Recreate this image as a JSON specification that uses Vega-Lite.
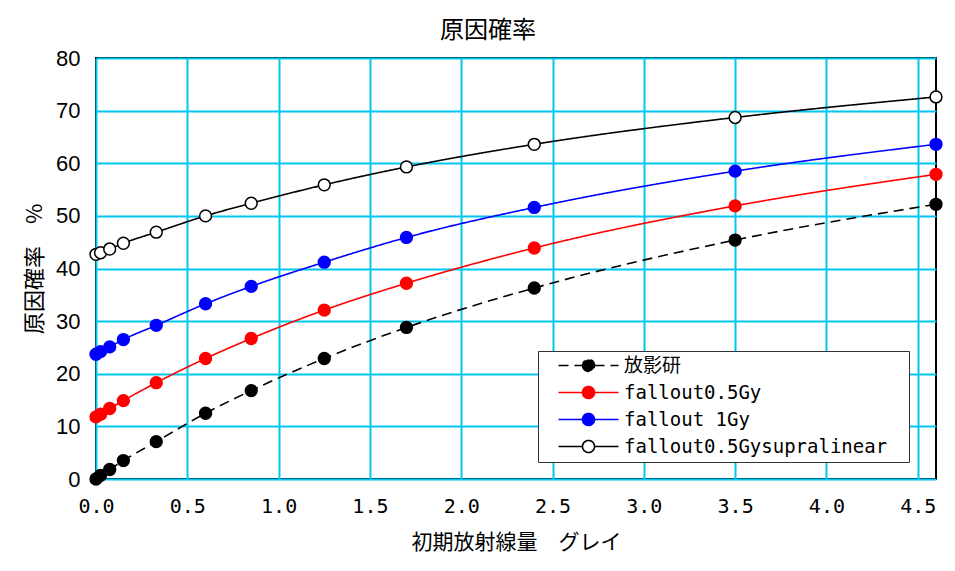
{
  "$schema": "https://vega.github.io/schema/vega-lite/v6.json",
  "width": 840,
  "height": 421,
  "autosize": "none",
  "padding": {"left": 96, "top": 58, "right": 19, "bottom": 92},
  "background": "white",
  "title": {
    "text": "原因確率",
    "font": "Noto Sans CJK JP",
    "fontSize": 24,
    "fontWeight": "normal",
    "color": "black",
    "anchor": "middle",
    "dx": -28,
    "offset": 4
  },
  "data": {
    "values": [
      {"series": "放影研", "x": 0, "y": 0},
      {"series": "放影研", "x": 0.025, "y": 0.7},
      {"series": "放影研", "x": 0.075, "y": 1.8},
      {"series": "放影研", "x": 0.15, "y": 3.5},
      {"series": "放影研", "x": 0.33, "y": 7.1},
      {"series": "放影研", "x": 0.6, "y": 12.5},
      {"series": "放影研", "x": 0.85, "y": 16.8},
      {"series": "放影研", "x": 1.25, "y": 22.9},
      {"series": "放影研", "x": 1.7, "y": 28.8},
      {"series": "放影研", "x": 2.4, "y": 36.3},
      {"series": "放影研", "x": 3.5, "y": 45.4},
      {"series": "放影研", "x": 4.6, "y": 52.2},
      {"series": "fallout0.5Gy", "x": 0, "y": 11.8},
      {"series": "fallout0.5Gy", "x": 0.025, "y": 12.3},
      {"series": "fallout0.5Gy", "x": 0.075, "y": 13.4},
      {"series": "fallout0.5Gy", "x": 0.15, "y": 14.9},
      {"series": "fallout0.5Gy", "x": 0.33, "y": 18.3},
      {"series": "fallout0.5Gy", "x": 0.6, "y": 22.9},
      {"series": "fallout0.5Gy", "x": 0.85, "y": 26.7},
      {"series": "fallout0.5Gy", "x": 1.25, "y": 32.1},
      {"series": "fallout0.5Gy", "x": 1.7, "y": 37.2},
      {"series": "fallout0.5Gy", "x": 2.4, "y": 43.9},
      {"series": "fallout0.5Gy", "x": 3.5, "y": 51.9},
      {"series": "fallout0.5Gy", "x": 4.6, "y": 57.9},
      {"series": "fallout 1Gy", "x": 0, "y": 23.7},
      {"series": "fallout 1Gy", "x": 0.025, "y": 24.2},
      {"series": "fallout 1Gy", "x": 0.075, "y": 25.1},
      {"series": "fallout 1Gy", "x": 0.15, "y": 26.5},
      {"series": "fallout 1Gy", "x": 0.33, "y": 29.2},
      {"series": "fallout 1Gy", "x": 0.6, "y": 33.3},
      {"series": "fallout 1Gy", "x": 0.85, "y": 36.6},
      {"series": "fallout 1Gy", "x": 1.25, "y": 41.2},
      {"series": "fallout 1Gy", "x": 1.7, "y": 45.9},
      {"series": "fallout 1Gy", "x": 2.4, "y": 51.6},
      {"series": "fallout 1Gy", "x": 3.5, "y": 58.5},
      {"series": "fallout 1Gy", "x": 4.6, "y": 63.6},
      {"series": "fallout0.5Gysupralinear", "x": 0, "y": 42.7},
      {"series": "fallout0.5Gysupralinear", "x": 0.025, "y": 43.0},
      {"series": "fallout0.5Gysupralinear", "x": 0.075, "y": 43.7},
      {"series": "fallout0.5Gysupralinear", "x": 0.15, "y": 44.8},
      {"series": "fallout0.5Gysupralinear", "x": 0.33, "y": 46.9},
      {"series": "fallout0.5Gysupralinear", "x": 0.6, "y": 50.0},
      {"series": "fallout0.5Gysupralinear", "x": 0.85, "y": 52.4},
      {"series": "fallout0.5Gysupralinear", "x": 1.25, "y": 55.9},
      {"series": "fallout0.5Gysupralinear", "x": 1.7, "y": 59.3},
      {"series": "fallout0.5Gysupralinear", "x": 2.4, "y": 63.6},
      {"series": "fallout0.5Gysupralinear", "x": 3.5, "y": 68.7},
      {"series": "fallout0.5Gysupralinear", "x": 4.6, "y": 72.6}
    ]
  },
  "encoding": {
    "x": {
      "field": "x",
      "type": "quantitative",
      "scale": {"domain": [0, 4.6], "nice": false, "zero": false},
      "axis": {
        "title": "初期放射線量　グレイ",
        "values": [0, 0.5, 1, 1.5, 2, 2.5, 3, 3.5, 4, 4.5],
        "format": ".1f",
        "labelFont": "DejaVu Sans Mono",
        "labelFontSize": 20,
        "labelPadding": 17,
        "titlePadding": 15,
        "labelFlush": false,
        "labelOverlap": false
      }
    },
    "y": {
      "field": "y",
      "type": "quantitative",
      "scale": {"domain": [0, 80], "nice": false},
      "axis": {
        "title": "原因確率　%",
        "titleFontSize": 22,
        "values": [0, 10, 20, 30, 40, 50, 60, 70, 80],
        "labelFont": "Liberation Sans",
        "labelFontSize": 22,
        "labelPadding": 16,
        "titlePadding": 9,
        "labelFlush": false,
        "labelOverlap": false
      }
    }
  },
  "layer": [
    {
      "mark": {"type": "line", "interpolate": "monotone", "strokeWidth": 1.6},
      "encoding": {
        "stroke": {
          "field": "series",
          "type": "nominal",
          "scale": {
            "domain": ["放影研", "fallout0.5Gy", "fallout 1Gy", "fallout0.5Gysupralinear"],
            "range": ["black", "#FF0000", "#0000FF", "black"]
          },
          "legend": {
            "title": null,
            "orient": "none",
            "legendX": 442,
            "legendY": 293,
            "symbolType": "M1,0L5,0M7,0L11,0M5,0A1,1 0 1,0 7,0A1,1 0 1,0 5,0ZM58,0",
            "symbolSize": 144,
            "symbolStrokeWidth": 1.6,
            "symbolOpacity": 1,
            "labelFont": "DejaVu Sans Mono, Noto Sans CJK JP",
            "labelFontSize": 19,
            "labelColor": "black",
            "labelOffset": 62,
            "labelLimit": 400,
            "rowPadding": 7,
            "padding": 5,
            "strokeColor": "#333333",
            "fillColor": "white",
            "cornerRadius": 0,
            "encode": {
              "symbols": {
                "update": {
                  "fill": [
                    {"test": "datum.value === 'fallout0.5Gy'", "value": "#FF0000"},
                    {"test": "datum.value === 'fallout 1Gy'", "value": "#0000FF"},
                    {"test": "datum.value === 'fallout0.5Gysupralinear'", "value": "white"},
                    {"value": "black"}
                  ],
                  "fillOpacity": {"value": 1},
                  "strokeDash": [
                    {"test": "datum.value === '放影研'", "value": [8, 5]},
                    {"value": [1, 0]}
                  ]
                }
              }
            }
          }
        },
        "strokeDash": {
          "field": "series",
          "type": "nominal",
          "scale": {
            "domain": ["放影研", "fallout0.5Gy", "fallout 1Gy", "fallout0.5Gysupralinear"],
            "range": [[10, 6], [1, 0], [1, 0], [1, 0]]
          },
          "legend": null
        }
      }
    },
    {
      "mark": {"type": "point", "shape": "circle", "filled": true, "size": 140, "strokeWidth": 1.5, "opacity": 1},
      "encoding": {
        "fill": {
          "field": "series",
          "type": "nominal",
          "scale": {
            "domain": ["放影研", "fallout0.5Gy", "fallout 1Gy", "fallout0.5Gysupralinear"],
            "range": ["black", "#FF0000", "#0000FF", "white"]
          },
          "legend": null
        },
        "stroke": {
          "field": "series",
          "type": "nominal"
        }
      }
    }
  ],
  "config": {
    "view": {"stroke": "black", "strokeWidth": 2},
    "axis": {
      "domain": false,
      "ticks": false,
      "grid": true,
      "gridColor": "#00C8F0",
      "gridWidth": 2,
      "gridOpacity": 1,
      "labelColor": "black",
      "titleColor": "black",
      "titleFont": "Noto Sans CJK JP",
      "titleFontSize": 21,
      "titleFontWeight": "normal"
    }
  }
}
